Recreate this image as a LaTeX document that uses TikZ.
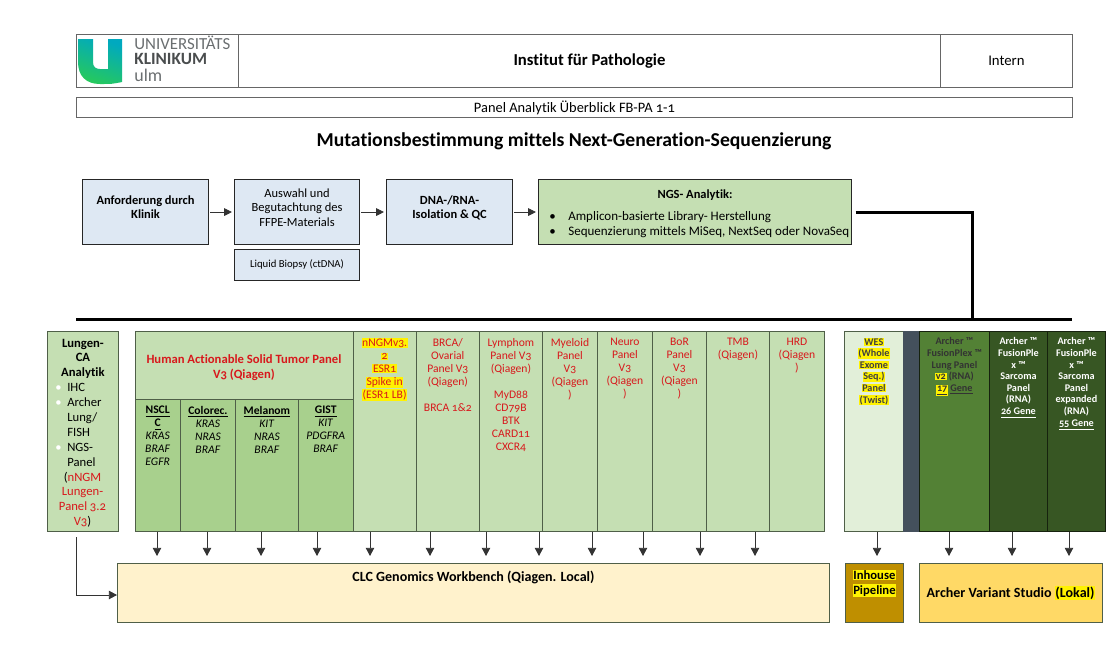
\documentclass[tikz,border=0pt]{standalone}
\usepackage{fontspec}
\setmainfont{Carlito}[Numbers=OldStyle,Ligatures=NoCommon]
\usepackage{xcolor}
\usetikzlibrary{positioning,arrows.meta}

\definecolor{flowblue}{HTML}{DEE8F3}
\definecolor{hgreen}{HTML}{C5DFB3}
\definecolor{subgreen}{HTML}{A8D08D}
\definecolor{wesgreen}{HTML}{E2EFD9}
\definecolor{slategrey}{HTML}{44505C}
\definecolor{archgreen}{HTML}{538135}
\definecolor{archdark}{HTML}{375623}
\definecolor{clcyellow}{HTML}{FFF2CC}
\definecolor{inhbrown}{HTML}{BF8F00}
\definecolor{avsyellow}{HTML}{FFD966}
\definecolor{panelred}{HTML}{D8181C}
\definecolor{logogrey}{HTML}{6A6E70}
\definecolor{cellline}{HTML}{4F5F48}

\newcommand{\hl}[1]{{\setlength{\fboxsep}{0.4pt}\colorbox{yellow}{#1}}}
\newcommand{\lbul}{\makebox[6.8pt][l]{\textcolor{white}{\textbullet}}}
\newcommand{\lind}{\hspace*{6.8pt}}
\newcommand{\nbul}{\makebox[10.8pt][l]{\textbullet}}

\tikzset{
  cell/.style={draw=cellline,anchor=north west,inner sep=0pt,line width=0.5pt,align=center},
  size/.style 2 args={minimum width=#1*0.02cm,minimum height=#2*0.02cm},
  flowbox/.style={cell,draw=black!85,fill=flowblue,line width=0.6pt},
  headbox/.style={draw=black!60,anchor=north west,inner sep=0pt,line width=0.5pt},
  coltext/.style={inner sep=0pt,align=center,font=\fontsize{6.6}{7.4}\selectfont,execute at begin node={\lineskiplimit=-10pt\relax}},
  redtext/.style={coltext,text=panelred},
  archtext/.style={coltext,font=\fontsize{5.8}{6.6}\selectfont\bfseries},
  flowtext/.style={inner sep=0pt,align=center,font=\fontsize{7.1}{8.3}\selectfont},
  boldtext/.style={flowtext,font=\fontsize{7.1}{8.3}\selectfont\bfseries},
  arr/.style={-{Triangle[length=4.6pt,width=4.8pt]},line width=0.4pt,draw=black!80,shorten >=4pt},
  flowarr/.style={-{Triangle[length=4.4pt,width=4.4pt]},line width=0.4pt,draw=black!80,shorten >=1.2pt,shorten <=0.6pt},
  rule/.style={line width=1.7pt,draw=black}
}

\begin{document}
\begin{tikzpicture}[x=0.02cm,y=-0.02cm]
  \useasboundingbox (0,0) rectangle (1120,657);

  % header
  \node[headbox,size={162}{53}] (logobox) at (76,34) {};
  \node[headbox,size={702}{53},font=\fontsize{9.5}{10}\selectfont\bfseries] (inst) at (238,34) {Institut für Pathologie};
  \node[headbox,size={132}{53},font=\fontsize{8.4}{10}\selectfont] (intern) at (940,34) {Intern};
  \node[headbox,size={996}{20.5},font=\fontsize{8.2}{10}\selectfont,text depth=0pt] (overview) at (76,96.5) {Panel Analytik Überblick FB-PA 1-1};
  \shade[left color=cyan!55!blue!75!green,right color=green!50!teal!85,shading angle=-20]
    (78,39) -- (93,39) -- (93,62) .. controls (93,67) and (96,69) .. (100,69) -- (108,69)
    -- (108,39) -- (122,39) -- (122,82) .. controls (112,84) .. (100,84)
    .. controls (86,84) and (78,76) .. (78,62) -- cycle;
  \node[anchor=west,inner sep=0pt,text=logogrey,font=\fontsize{9.6}{10}\selectfont] (logoa) at (134,43) {UNIVERSITÄTS};
  \node[anchor=west,inner sep=0pt,text=logogrey!70!black,font=\fontsize{9.8}{10}\selectfont\bfseries] (logob) at (134,59) {KLINIKUM};
  \node[anchor=west,inner sep=0pt,text=logogrey,font=\fontsize{10.2}{11}\selectfont] (logoc) at (134,75) {ulm};

  \node[inner sep=0pt,font=\fontsize{11.2}{12}\selectfont\bfseries] (title) at (574,141) {Mutationsbestimmung mittels Next-Generation-Sequenzierung};

  % flow
  \node[flowbox,size={126}{65}] (anf) at (82,179) {};
  \node[boldtext,below=9.2pt of anf.north] (anftext) {Anforderung durch\\Klinik};
  \node[flowbox,size={125}{65}] (ausw) at (234,179) {};
  \node[flowtext,below=5.3pt of ausw.north] (auswtext) {Auswahl und\\Begutachtung des\\FFPE-Materials};
  \node[flowbox,size={125}{31}] (liquid) at (234,249) {};
  \node[flowtext,font=\fontsize{6.1}{8}\selectfont,below=5.6pt of liquid.north] (liquidtext) {Liquid Biopsy (ctDNA)};
  \node[flowbox,size={126}{65}] (dna) at (386,179) {};
  \node[boldtext,below=9.2pt of dna.north] (dnatext) {DNA-/RNA-\\Isolation \& QC};
  \node[flowbox,fill=hgreen,size={313}{65}] (ngs) at (538,179) {};
  \node[boldtext,below=5.7pt of ngs.north] (ngshead) {NGS- Analytik:};
  \node[anchor=north west,inner sep=0pt,align=left,font=\fontsize{7.4}{8.5}\selectfont] (ngslist) at (549,211)
    {\nbul Amplicon-basierte Library- Herstellung\\\nbul Sequenzierung mittels MiSeq, NextSeq oder NovaSeq};
  \draw[flowarr] (anf) -- (ausw);
  \draw[flowarr] (ausw) -- (dna);
  \draw[flowarr] (dna) -- (ngs);

  % thick line
  \coordinate (rulel) at (76,319);
  \coordinate (ruler) at (1072,319);
  \coordinate (rulem) at (972,319);
  \draw[rule] (rulel) -- (ruler);
  \draw[rule,shorten <=2pt] (ngs.east) -| (rulem);

  % left box
  \node[cell,fill=hgreen,size={71}{200}] (lung) at (47,331) {};
  \node[inner sep=0pt,align=center,font=\fontsize{7.2}{8.3}\selectfont\bfseries,below=4.3pt of lung.north] (lunghead) {Lungen-\\CA\\Analytik};
  \node[anchor=north west,inner sep=0pt,align=left,font=\fontsize{7.2}{8.5}\selectfont] (lunglist) at (55,383)
    {\lbul IHC\\\lbul Archer\\\lind Lung/\\\lind FISH\\\lbul NGS-\\\lind Panel};
  \node[inner sep=0pt,align=center,font=\fontsize{7.2}{8.4}\selectfont,text=panelred,anchor=north] (lungred) at (82.5,471.5)
    {\textcolor{black}{(}nNGM\\Lungen-\\Panel 3.2\\V3\textcolor{black}{)}};

  % human panel
  \node[cell,fill=hgreen,size={218}{68}] (human) at (134.5,331) {};
  \node[inner sep=0pt,align=center,text=panelred,font=\fontsize{7.2}{8.6}\selectfont\bfseries,below=13.4pt of human.north] (humantext)
    {Human Actionable Solid Tumor Panel\\V3 (Qiagen)};
  \node[cell,fill=subgreen,size={45.5}{132}] (nscl) at (134.5,399) {};
  \node[cell,fill=subgreen,size={55}{132}] (colo) at (180,399) {};
  \node[cell,fill=subgreen,size={63}{132}] (mela) at (235,399) {};
  \node[cell,fill=subgreen,size={54.7}{132}] (gist) at (298,399) {};
  \node[coltext,below=3.8pt of nscl.north] (nscltext) {\textbf{\underline{NSCL}}\\\textbf{\underline{C}}\\\textit{KRAS}\\\textit{BRAF}\\\textit{EGFR}};
  \node[coltext,below=3.8pt of colo.north] (colotext) {\textbf{\underline{Colorec.}}\\\textit{KRAS}\\\textit{NRAS}\\\textit{BRAF}};
  \node[coltext,below=3.8pt of mela.north] (melatext) {\textbf{\underline{Melanom}}\\\textit{KIT}\\\textit{NRAS}\\\textit{BRAF}};
  \node[coltext,below=3.8pt of gist.north] (gisttext) {\textbf{\underline{GIST}}\\\textit{KIT}\\\textit{PDGFRA}\\\textit{BRAF}};

  % red panels
  \node[cell,fill=hgreen,size={63}{200}] (nngm) at (352.7,331) {};
  \node[cell,fill=hgreen,size={63.3}{200}] (brca) at (415.7,331) {};
  \node[cell,fill=hgreen,size={63}{200}] (lymph) at (479,331) {};
  \node[cell,fill=hgreen,size={55}{200}] (myel) at (542,331) {};
  \node[cell,fill=hgreen,size={55}{200}] (neuro) at (597,331) {};
  \node[cell,fill=hgreen,size={54}{200}] (bor) at (652,331) {};
  \node[cell,fill=hgreen,size={63}{200}] (tmb) at (706,331) {};
  \node[cell,fill=hgreen,size={55}{200}] (hrd) at (769,331) {};
  \node[redtext,below=4pt of nngm.north] (nngmtext) {\hl{nNGMv3.}\\\hl{2}\\\hl{ESR1}\\\hl{Spike in}\\\hl{(ESR1 LB)}};
  \node[redtext,below=4pt of brca.north] (brcatext) {BRCA/\\Ovarial\\Panel V3\\(Qiagen)\\[7.4pt]BRCA 1\&2};
  \node[redtext,below=4pt of lymph.north] (lymphtext) {Lymphom\\Panel V3\\(Qiagen)\\[7.4pt]MyD88\\CD79B\\BTK\\CARD11\\CXCR4};
  \node[redtext,below=4pt of myel.north] (myeltext) {Myeloid\\Panel\\V3\\(Qiagen\\)};
  \node[redtext,below=4pt of neuro.north] (neurotext) {Neuro\\Panel\\V3\\(Qiagen\\)};
  \node[redtext,below=4pt of bor.north] (bortext) {BoR\\Panel\\V3\\(Qiagen\\)};
  \node[redtext,below=4pt of tmb.north] (tmbtext) {TMB\\(Qiagen)};
  \node[redtext,below=4pt of hrd.north] (hrdtext) {HRD\\(Qiagen\\)};

  % right panels
  \node[cell,fill=wesgreen,size={59}{200}] (wes) at (844,331) {};
  \node[cell,fill=slategrey,draw=slategrey,size={16}{200}] (slate) at (903,331) {};
  \node[cell,fill=archgreen,draw=black!60!archdark,size={70}{200}] (archa) at (919,331) {};
  \node[cell,fill=archdark,draw=black!60!archdark,size={58}{200}] (archb) at (989,331) {};
  \node[cell,fill=archdark,draw=black!60!archdark,size={58}{200}] (archc) at (1047,331) {};
  \node[archtext,below=3.6pt of wes.north,text=black!75] (westext) {\hl{WES}\\\hl{(Whole}\\\hl{Exome}\\\hl{Seq.)}\\\hl{Panel}\\\hl{(Twist)}};
  \node[archtext,below=3.6pt of archa.north,text=black!80] (archatext) {Archer ™\\FusionPlex ™\\Lung Panel\\\hl{v2} (RNA)\\\hl{\underline{17}} \underline{Gene}};
  \node[archtext,below=3.6pt of archb.north,text=white] (archbtext) {Archer ™\\FusionPle\\x ™\\Sarcoma\\Panel\\(RNA)\\\underline{26 Gene}};
  \node[archtext,below=3.6pt of archc.north,text=white] (archctext) {Archer ™\\FusionPle\\x ™\\Sarcoma\\Panel\\expanded\\(RNA)\\\underline{55 Gene}};

  % lower boxes
  \node[cell,fill=clcyellow,size={712}{59}] (clc) at (117,563) {};
  \node[inner sep=0pt,font=\fontsize{8}{9}\selectfont\bfseries,below=4.5pt of clc.north] (clctext) {CLC Genomics Workbench (Qiagen. Local)};
  \node[cell,fill=inhbrown,size={58}{59}] (inh) at (845,563) {};
  \node[inner sep=0pt,align=center,font=\fontsize{7.2}{8.4}\selectfont\bfseries,below=3.6pt of inh.north] (inhtext) {\hl{Inhouse}\\\hl{Pipeline}};
  \node[cell,fill=avsyellow,size={183}{59},font=\fontsize{8}{9}\selectfont\bfseries] (avs) at (919,563) {Archer Variant Studio \hl{(Lokal)}};

  % arrows
  \foreach \x/\src/\dst in {157/nscl/clc,207/colo/clc,261/mela/clc,317/gist/clc,370/nngm/clc,430/brca/clc,
    486/lymph/clc,539/lymph/clc,592/myel/clc,643/neuro/clc,700/bor/clc,755/tmb/clc,
    877/wes/inh,949/archa/avs,1012/archb/avs,1069/archc/avs}
    \draw[arr] (\src.south -| \x,0) -- (\dst.north -| \x,0);
  \coordinate (clcin) at (117,595);
  \draw[arr,shorten >=0pt,shorten <=3pt] (lung.south -| 76,0) |- (clcin);
\end{tikzpicture}
\end{document}
